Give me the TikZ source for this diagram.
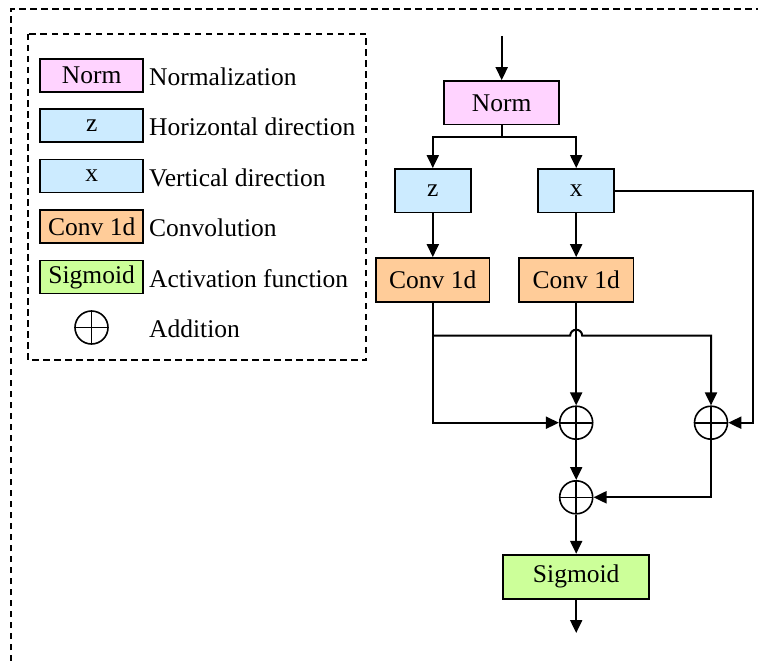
\documentclass[tikz,border=0pt]{standalone}
\usepackage{fontspec}
\setmainfont{Liberation Serif}
\usetikzlibrary{arrows.meta,calc}
\definecolor{normc}{HTML}{FFD3FF}
\definecolor{dirc}{HTML}{CCEBFF}
\definecolor{convc}{HTML}{FFCC99}
\definecolor{sigc}{HTML}{CCFF99}
\tikzset{
  every node/.style={font=\fontsize{25.5}{30}\selectfont},
  blk/.style={draw, line width=1.8pt, inner sep=0pt, minimum height=43.5pt},
  lblk/.style={draw, line width=1.8pt, inner sep=0pt, minimum width=103pt, minimum height=33pt},
  addc/.style={draw, circle, line width=1.6pt, minimum size=33pt, inner sep=0pt,
    path picture={\draw[line width=1.6pt] (path picture bounding box.north) -- (path picture bounding box.south)
      (path picture bounding box.west) -- (path picture bounding box.east);}},
  conn/.style={line width=2pt},
  arr/.style={conn, -{Triangle[length=13pt,width=12pt]}},
  dbox/.style={line width=1.5pt, dash pattern=on 6.5pt off 4.5pt},
  ltext/.style={anchor=west, inner sep=0pt}
}
\begin{document}
\begin{tikzpicture}[x=1pt,y=-1pt]
\path[use as bounding box] (0,0) rectangle (758,661);
% outer dashed frame
\draw[dbox] (11,661) -- (11,9) -- (758,9);
% legend
\draw[dbox] (28,34) rectangle (366,360);
\node[lblk, fill=normc] (lnorm) at (91.7,75.5) {Norm};
\node[lblk, fill=dirc] (lz) at (91.7,125.8) {z};
\node[lblk, fill=dirc] (lx) at (91.7,176) {x};
\node[lblk, fill=convc] (lconv) at (91.7,226.5) {Conv 1d};
\node[lblk, fill=sigc] (lsig) at (91.7,277) {Sigmoid};
\node[addc] (ladd) at (91.5,327.5) {};
\node[ltext] (t1) at (149,76.5) {Normalization};
\node[ltext] (t2) at (149,127) {Horizontal direction};
\node[ltext] (t3) at (149,177.5) {Vertical direction};
\node[ltext] (t4) at (149,227.5) {Convolution};
\node[ltext] (t5) at (149,278.5) {Activation function};
\node[ltext] (t6) at (149,329) {Addition};
% main diagram
\coordinate (in) at (501.7,36);
\node[blk, fill=normc, minimum width=114.7pt] (norm) at (501.7,102.8) {Norm};
\node[blk, fill=dirc, minimum width=76.3pt] (z) at (432.8,190.7) {z};
\node[blk, fill=dirc, minimum width=76.3pt] (x) at (576.2,190.7) {x};
\node[blk, fill=convc, minimum width=113.3pt, minimum height=44pt] (cl) at (432.8,280) {Conv 1d};
\node[blk, fill=convc, minimum width=114.7pt, minimum height=44pt] (cr) at (576.2,280) {Conv 1d};
\node[addc] (p1) at (576.2,422.7) {};
\node[addc] (p2) at (711,422.7) {};
\node[addc] (p3) at (576.2,497.3) {};
\node[blk, fill=sigc, minimum width=146.3pt, minimum height=44pt] (sig) at (576.2,576.7) {Sigmoid};
\coordinate (out) at (576.2,633);
\coordinate (xr) at (753.3,0);
\coordinate (hy) at (0,335.7);
\coordinate (br) at (0,137.3);
% connectors
\draw[arr] (in) -- (norm.north);
\draw[arr] (norm.south) -- (norm.south |- br) -| (z.north);
\draw[arr] (norm.south |- br) -| (x.north);
\draw[arr] (z) -- (cl);
\draw[arr] (x) -- (cr);
\draw[arr] (x.east) -- (x.east -| xr) |- (p2.east);
\draw[arr] (cl.south) |- (p1.west);
\draw[arr] (cl.south |- hy) -- ($(cr.south |- hy)+(-6,0)$) arc(180:360:6) -| (p2.north);
\draw[arr] (cr.south) -- (p1.north);
\draw[arr] (p1.south) -- (p3.north);
\draw[arr] (p2.south) |- (p3.east);
\draw[arr] (p3.south) -- (sig.north);
\draw[arr] (sig.south) -- (out);
\end{tikzpicture}
\end{document}
